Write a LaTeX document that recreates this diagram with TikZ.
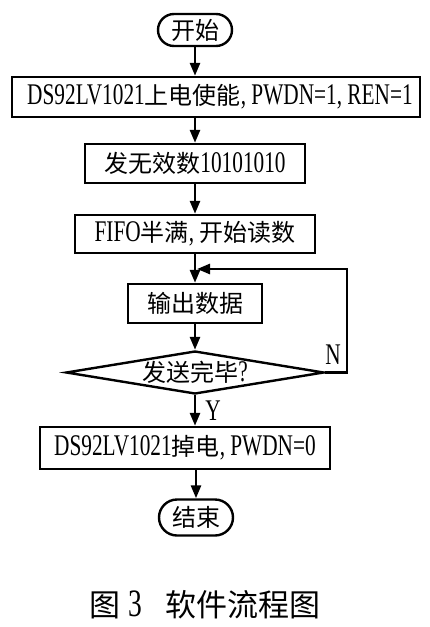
\documentclass[tikz,border=0pt]{standalone}
\usepackage{fontspec}
\setmainfont{Liberation Serif}[Scale=1.25,FakeStretch=0.71]
\newfontfamily\cjk{Noto Sans CJK SC}
\newcommand\zh[1]{{\cjk #1}}
\usetikzlibrary{shapes.geometric,arrows.meta}
\begin{document}
\begin{tikzpicture}[x=1pt,y=-1pt,font=\fontsize{24}{28}\selectfont,
  box/.style={draw,line width=2.4pt,minimum height=40pt,inner sep=0pt},
  term/.style={draw,line width=2.4pt,rounded corners=16pt,minimum width=74pt,minimum height=32pt,inner sep=0pt},
  dec/.style={diamond,draw,line width=2.4pt,minimum width=258pt,minimum height=43pt,inner sep=0pt},
  arr/.style={line width=2.6pt,-{Triangle[length=13pt,width=10pt]}},
  lab/.style={inner sep=0pt}]
\useasboundingbox (0,0) rectangle (430,627);
\node[term] (start) at (195,30) {\zh{开始}};
\node[box,minimum width=408pt] (b1) at (216,97) {\hspace{8pt}DS92LV1021\zh{上电使能}, PWDN=1, REN=1};
\node[box,minimum width=220pt,minimum height=39pt] (b2) at (195,163.5) {\zh{发无效数}10101010};
\node[box,minimum width=240pt,minimum height=38pt] (b3) at (195,234) {FIFO\zh{半满}, \zh{开始读数}};
\node[box,minimum width=134pt,minimum height=39pt] (b4) at (195,303.5) {\zh{输出数据}};
\node[dec,label={center:\zh{发送完毕}?}] (d) at (195,372.5) {};
\node[box,minimum width=290pt,minimum height=42pt] (b5) at (185,448) {DS92LV1021\zh{掉电}, PWDN=0};
\node[term,minimum height=36pt,rounded corners=18pt] (end) at (196,517.5) {\zh{结束}};
\node[lab] (n) at (333,355) {N};
\node[lab] (y) at (213,411) {Y};
\node[lab] (cap) at (205,605) {\fontsize{31}{34}\selectfont\zh{图}\hspace{8pt}3\hspace{24pt}\zh{软件流程图}};
\coordinate (loopR) at (347,372.5);
\coordinate (loopin) at (197,269);
\draw[arr] (start.south) -- (start.south |- b1.north);
\draw[arr] (b2.north |- b1.south) -- (b2.north);
\draw[arr] (b2.south) -- (b3.north);
\draw[arr] (b3.south) -- (b4.north);
\draw[arr] (b4.south) -- (d.north);
\draw[arr] (d.south) -- (d.south |- b5.north);
\draw[arr] (end.north |- b5.south) -- (end.north);
\draw[arr] (d.east) -- (loopR) |- (loopin);
\end{tikzpicture}
\end{document}
